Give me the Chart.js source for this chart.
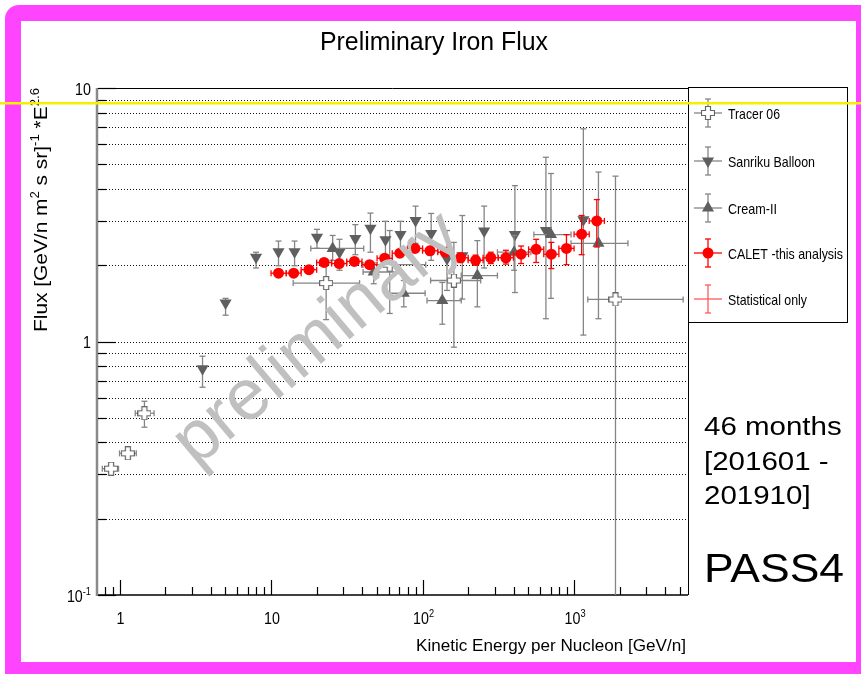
<!DOCTYPE html>
<html>
<head>
<meta charset="utf-8">
<title>Preliminary Iron Flux</title>
<script src="https://cdn.jsdelivr.net/npm/chart.js@4.4.1/dist/chart.umd.min.js"></script>
<style>
  html, body { margin: 0; padding: 0; background: #fff; overflow: hidden; }
  #flux-chart { display: block; }
</style>
</head>
<body>
<canvas id="flux-chart" width="861" height="674"></canvas>
<script>
// values (flux * E^2.6)
const tracerE = [0.88, 1.135, 1.46, 23.1, 60.7, 161, 1877];
const tracerELo = [0.77, 1.0, 1.27, 14.0, 40.5, 113, 1232];
const tracerEHi = [0.985, 1.29, 1.69, 38.4, 105, 242, 5250];
const tracerFlux = [0.315, 0.362, 0.521, 1.70, 2.01, 1.74, 1.465];
const tracerFluxLo = [0.305, 0.352, 0.459, 1.22, 1.29, 0.95, 0.05];
const tracerFluxHi = [0.325, 0.372, 0.581, 2.09, 2.74, 2.46, 4.49];

const sanrikuE = [3.53, 5.01, 7.96, 11.2, 14.3, 20.1, 28.3, 36.0, 45.3, 56.9, 71.5, 89.9, 114, 145, 183, 255, 407, 652, 1152];
const sanrikuFlux = [0.78, 1.42, 2.15, 2.26, 2.26, 2.58, 2.25, 2.55, 2.80, 2.52, 2.64, 3.0, 2.67, 2.12, 2.18, 2.73, 2.64, 2.74, 3.02];
const sanrikuFluxLo = [0.66, 1.27, 1.95, 1.99, 1.99, 2.33, 1.91, 2.20, 2.25, 2.20, 2.22, 2.44, 2.09, 1.59, 1.47, 1.95, 1.56, 1.23, 1.06];
const sanrikuFluxHi = [0.875, 1.48, 2.25, 2.49, 2.49, 2.77, 2.53, 2.89, 3.21, 2.98, 2.98, 3.42, 3.20, 2.74, 3.14, 3.42, 4.12, 5.33, 6.9];

const creamE = [25.5, 47.6, 75.2, 135, 230, 402, 704, 1449];
const creamELo = [18.3, 40.5, 58.4, 107, 180, 312, 543, 955];
const creamEHi = [40.9, 67.3, 104, 180, 312, 519, 955, 2268];
const creamFlux = [2.33, 1.88, 1.55, 1.45, 1.82, 2.25, 2.64, 2.44];
const creamFluxLo = [2.09, 1.69, 1.37, 1.17, 1.37, 1.91, 1.48, 1.23];
const creamFluxHi = [2.62, 2.04, 1.74, 1.71, 2.50, 2.62, 4.60, 4.66];

const caletE = [11.2, 14.1, 17.8, 22.4, 28.2, 35.5, 44.7, 56.2, 70.8, 89.1, 112, 141, 178, 224, 282, 355, 447, 562, 708, 891, 1122, 1413];
const caletBinEdges = [10, 12.6, 15.8, 20, 25.1, 31.6, 39.8, 50.1, 63.1, 79.4, 100, 126, 158, 200, 251, 316, 398, 501, 631, 794, 1000, 1259, 1585];
const caletFlux = [1.86, 1.86, 1.92, 2.05, 2.03, 2.07, 2.01, 2.13, 2.23, 2.33, 2.28, 2.25, 2.14, 2.09, 2.14, 2.14, 2.21, 2.31, 2.21, 2.33, 2.65, 2.99];
const caletFluxLo = [1.82, 1.82, 1.88, 2.00, 1.98, 2.02, 1.96, 2.07, 2.17, 2.26, 2.21, 2.17, 2.05, 2.00, 2.03, 2.02, 2.03, 2.05, 1.94, 2.01, 2.20, 2.36];
const caletFluxHi = [1.90, 1.90, 1.96, 2.10, 2.08, 2.12, 2.06, 2.19, 2.29, 2.40, 2.35, 2.33, 2.23, 2.19, 2.25, 2.29, 2.38, 2.53, 2.46, 2.64, 3.14, 3.63];

const legendLabels = ["Tracer 06", "Sanriku Balloon", "Cream-II", "CALET -this analysis", "Statistical only"];

const xTickValues = [1, 10, 100, 1000];
const xTickText = [["1", ""], ["10", ""], ["10", "2"], ["10", "3"]];
const yTickValues = [0.1, 1, 10];
const yTickText = [["10", "-1"], ["1", ""], ["10", ""]];

const FONT = '"Liberation Sans", Arial, sans-serif';
const GRAY = "#858585";
const DARK = "#5f5f5f";
const RED = "#ff0000";

function pts(xs, ys) {
  return xs.map((x, i) => ({ x: x, y: ys[i] }));
}

// open cross marker used for Tracer
function openCross() {
  const c = document.createElement("canvas");
  c.width = 14;
  c.height = 14;
  const g = c.getContext("2d");
  const a = 4.5, b = 9.5, e = 13.5, s = 0.5;
  g.beginPath();
  g.moveTo(a, s); g.lineTo(b, s); g.lineTo(b, a); g.lineTo(e, a); g.lineTo(e, b);
  g.lineTo(b, b); g.lineTo(b, e); g.lineTo(a, e); g.lineTo(a, b); g.lineTo(s, b);
  g.lineTo(s, a); g.lineTo(a, a); g.closePath();
  g.fillStyle = "#fff";
  g.fill();
  g.strokeStyle = "#666";
  g.lineWidth = 1.2;
  g.stroke();
  return c;
}
const crossImg = openCross();

function richText(ctx, parts, x, y, o) {
  // parts: [[text, isSup], ...]
  ctx.save();
  const size = o.size, sup = o.sup || Math.round(size * 0.65);
  let natural = 0;
  parts.forEach(p => {
    ctx.font = (p[1] ? sup : size) + "px " + FONT;
    natural += ctx.measureText(p[0]).width;
  });
  const sx = o.width ? o.width / natural : (o.sx || 1);
  const total = natural * sx;
  ctx.translate(x, y);
  if (o.angle) ctx.rotate(o.angle);
  let left = 0;
  if (o.align === "center") left = -total / 2;
  else if (o.align === "right") left = -total;
  ctx.translate(left, 0);
  ctx.scale(sx, 1);
  ctx.fillStyle = o.color || "#000";
  ctx.textAlign = "left";
  ctx.textBaseline = "alphabetic";
  let cx = 0;
  parts.forEach(p => {
    ctx.font = (p[1] ? sup : size) + "px " + FONT;
    ctx.fillText(p[0], cx, p[1] ? -(o.rise || size * 0.45) : 0);
    cx += ctx.measureText(p[0]).width;
  });
  ctx.restore();
}

function text(ctx, str, x, y, o) {
  richText(ctx, [[str, false]], x, y, o);
}

function line(ctx, x1, y1, x2, y2) {
  ctx.beginPath();
  ctx.moveTo(x1, y1);
  ctx.lineTo(x2, y2);
  ctx.stroke();
}

// error bars with small end caps
function drawErrors(ctx, xs, ys, ds) {
  const cap = 3;
  ctx.strokeStyle = ds.errColor;
  ctx.lineWidth = 1.3;
  ds.data.forEach((p, i) => {
    const px = xs.getPixelForValue(p.x);
    const py = ys.getPixelForValue(p.y);
    const yl = ys.getPixelForValue(ds.yLo[i]);
    const yh = ys.getPixelForValue(ds.yHi[i]);
    line(ctx, px, yh, px, yl);
    line(ctx, px - cap, yh, px + cap, yh);
    line(ctx, px - cap, yl, px + cap, yl);
    if (ds.xLo) {
      const xl = xs.getPixelForValue(ds.xLo[i]);
      const xh = xs.getPixelForValue(ds.xHi[i]);
      line(ctx, xl, py, xh, py);
      line(ctx, xl, py - cap, xl, py + cap);
      line(ctx, xh, py - cap, xh, py + cap);
    }
  });
}

const rootPlot = {
  id: "rootPlot",
  beforeDraw(chart) {
    const ctx = chart.ctx;
    ctx.save();
    ctx.fillStyle = "#fff";
    ctx.fillRect(0, 0, chart.width, chart.height);
    ctx.fillStyle = "#ff44ff";
    ctx.beginPath();
    ctx.roundRect(5, 5, 900, 700, [14]);
    ctx.fill();
    ctx.fillStyle = "#fff";
    ctx.fillRect(21, 21, 835, 641);
    ctx.restore();
  },
  beforeDatasetsDraw(chart) {
    const ctx = chart.ctx;
    const a = chart.chartArea;
    const xs = chart.scales.x, ys = chart.scales.y;
    ctx.save();
    // dotted horizontal grid on every decade step
    ctx.strokeStyle = "#111";
    ctx.lineWidth = 1;
    ctx.setLineDash([1, 2]);
    const yAll = [];
    for (let d = 0.1; d < 11; d *= 10) {
      for (let m = 1; m <= 9; m++) {
        const v = +(m * d).toPrecision(3);
        if (v >= 0.1 && v <= 10) yAll.push(v);
      }
    }
    yAll.forEach(v => {
      if (v === 0.1) return;
      const py = Math.round(ys.getPixelForValue(v)) + 0.5;
      line(ctx, a.left, py, a.right, py);
    });
    ctx.setLineDash([]);
    // frame
    ctx.strokeStyle = "#000";
    line(ctx, a.left, a.top + 0.5, a.right, a.top + 0.5);
    line(ctx, a.right + 0.5, a.top, a.right + 0.5, a.bottom);
    ctx.lineWidth = 1.5;
    line(ctx, a.left, a.bottom, a.right, a.bottom);
    ctx.strokeStyle = "#8a8a8a";
    ctx.lineWidth = 2.5;
    line(ctx, a.left, a.top, a.left, a.bottom + 1);
    // y ticks (inward)
    ctx.strokeStyle = "#000";
    ctx.lineWidth = 1.2;
    yAll.forEach(v => {
      const py = Math.round(ys.getPixelForValue(v)) + 0.5;
      const major = yTickValues.includes(v);
      line(ctx, a.left + 1, py, a.left + (major ? 19 : 9), py);
    });
    // x ticks (inward)
    for (let d = 0.1; d < 10000; d *= 10) {
      for (let m = 1; m <= 9; m++) {
        const v = +(m * d).toPrecision(3);
        if (v < xs.min || v > xs.max) continue;
        const px = Math.round(xs.getPixelForValue(v)) + 0.5;
        const major = xTickValues.includes(v);
        line(ctx, px, a.bottom, px, a.bottom - (major ? 15 : 8));
      }
    }
    // tick labels
    yTickValues.forEach((v, i) => {
      const py = ys.getPixelForValue(v);
      const t = yTickText[i];
      richText(ctx, [[t[0], false], [t[1], true]], 91, py + 6.5, { size: 17, sup: 11, sx: 0.84, align: "right", rise: 7 });
    });
    xTickValues.forEach((v, i) => {
      const px = xs.getPixelForValue(v);
      const t = xTickText[i];
      richText(ctx, [[t[0], false], [t[1], true]], px + 1, 624, { size: 17, sup: 11, sx: 0.84, align: "center", rise: 7 });
    });
    // axis titles
    text(ctx, "Kinetic Energy per Nucleon [GeV/n]", 686, 651, { size: 17, width: 270, align: "right" });
    richText(ctx, [["Flux [GeV/n m", false], ["2", true], [" s sr]", false], ["-1", true], [" *E", false], ["2.6", true]],
      46.5, 88, { size: 19, sup: 12, rise: 8, width: 244, align: "right", angle: -Math.PI / 2 });
    ctx.restore();
  },
  beforeDatasetDraw(chart, args) {
    const ctx = chart.ctx;
    const a = chart.chartArea;
    ctx.save();
    ctx.beginPath();
    ctx.rect(a.left, a.top, a.right - a.left, a.bottom - a.top);
    ctx.clip();
    drawErrors(ctx, chart.scales.x, chart.scales.y, chart.data.datasets[args.index]);
    ctx.restore();
  },
  afterDatasetsDraw(chart) {
    const ctx = chart.ctx;
    ctx.save();
    ctx.translate(318, 340);
    ctx.rotate(-40 * Math.PI / 180);
    ctx.font = "72px " + FONT;
    ctx.fillStyle = "#c0c0c0";
    ctx.textAlign = "center";
    ctx.textBaseline = "middle";
    ctx.fillText("preliminary", 0, 0);
    ctx.restore();
  },
  afterDraw(chart) {
    const ctx = chart.ctx;
    ctx.save();
    // title
    text(ctx, "Preliminary Iron Flux", 434, 50, { size: 26, width: 228, align: "center" });
    // legend box
    ctx.fillStyle = "#fff";
    ctx.fillRect(688, 87, 160, 236);
    ctx.strokeStyle = "#000";
    ctx.lineWidth = 1;
    ctx.strokeRect(688.5, 87.5, 159, 235);
    const rows = [113, 161, 208, 253, 299];
    const widths = [52, 87, 49, 115, 79];
    const styles = [
      { col: GRAY, mark: { pointStyle: crossImg, radius: 6, rotation: 0, borderWidth: 0 }, fill: "#fff" },
      { col: GRAY, mark: { pointStyle: "triangle", radius: 7, rotation: 180, borderWidth: 0 }, fill: DARK },
      { col: GRAY, mark: { pointStyle: "triangle", radius: 7, rotation: 0, borderWidth: 0 }, fill: DARK },
      { col: RED, mark: { pointStyle: "circle", radius: 5.5, rotation: 0, borderWidth: 0 }, fill: RED },
      { col: "#ff5a5a", mark: null }
    ];
    const mx = 708;
    legendLabels.forEach((label, i) => {
      const y = rows[i];
      const s = styles[i];
      ctx.strokeStyle = s.col;
      ctx.lineWidth = 1.3;
      line(ctx, 694, y, 722, y);
      line(ctx, mx, y - 14, mx, y + 14);
      line(ctx, mx - 3, y - 14, mx + 3, y - 14);
      line(ctx, mx - 3, y + 14, mx + 3, y + 14);
      if (s.mark) {
        ctx.fillStyle = s.fill;
        ctx.strokeStyle = s.fill;
        Chart.helpers.drawPoint(ctx, s.mark, mx, y);
      }
      text(ctx, label, 728, y + 5.5, { size: 15, width: widths[i] });
    });
    // run annotation
    ctx.font = "25px " + FONT;
    const sx = 137.7 / ctx.measureText("46 months").width;
    text(ctx, "46 months", 704, 435, { size: 25, sx: sx });
    text(ctx, "[201601 -", 704, 470, { size: 25, sx: sx });
    text(ctx, "201910]", 704, 504, { size: 25, sx: sx });
    text(ctx, "PASS4", 704, 582, { size: 40, width: 140 });
    // yellow marker line across the slide
    ctx.fillStyle = "#f2f200";
    ctx.fillRect(0, 102, chart.width, 2.5);
    ctx.restore();
  }
};

const ctx = document.getElementById("flux-chart");

new Chart(ctx, {
  type: "scatter",
  data: {
    datasets: [
      {
        label: legendLabels[3],
        data: pts(caletE, caletFlux),
        xLo: caletBinEdges.slice(0, -1),
        xHi: caletBinEdges.slice(1),
        yLo: caletFluxLo,
        yHi: caletFluxHi,
        errColor: RED,
        pointStyle: "circle",
        pointRadius: 5.5,
        pointBackgroundColor: RED,
        pointBorderColor: RED,
        pointBorderWidth: 0,
      },
      {
        label: legendLabels[2],
        data: pts(creamE, creamFlux),
        xLo: creamELo,
        xHi: creamEHi,
        yLo: creamFluxLo,
        yHi: creamFluxHi,
        errColor: GRAY,
        pointStyle: "triangle",
        pointRadius: 7,
        pointBackgroundColor: DARK,
        pointBorderColor: DARK,
        pointBorderWidth: 0,
      },
      {
        label: legendLabels[1],
        data: pts(sanrikuE, sanrikuFlux),
        yLo: sanrikuFluxLo,
        yHi: sanrikuFluxHi,
        errColor: GRAY,
        pointStyle: "triangle",
        pointRotation: 180,
        pointRadius: 7,
        pointBackgroundColor: DARK,
        pointBorderColor: DARK,
        pointBorderWidth: 0,
      },
      {
        label: legendLabels[0],
        data: pts(tracerE, tracerFlux),
        xLo: tracerELo,
        xHi: tracerEHi,
        yLo: tracerFluxLo,
        yHi: tracerFluxHi,
        errColor: GRAY,
        pointStyle: crossImg,
        pointRadius: 7,
      },
    ],
  },
  options: {
    responsive: false,
    animation: false,
    events: [],
    layout: {
      padding: { left: 97, top: 88, right: 173, bottom: 79 },
    },
    scales: {
      x: { type: "logarithmic", min: 0.71, max: 5650, bounds: "data", display: false },
      y: { type: "logarithmic", min: 0.1, max: 10, bounds: "data", display: false },
    },
    plugins: {
      legend: { display: false },
      tooltip: { enabled: false },
    },
  },
  plugins: [rootPlot],
});
</script>
</body>
</html>
